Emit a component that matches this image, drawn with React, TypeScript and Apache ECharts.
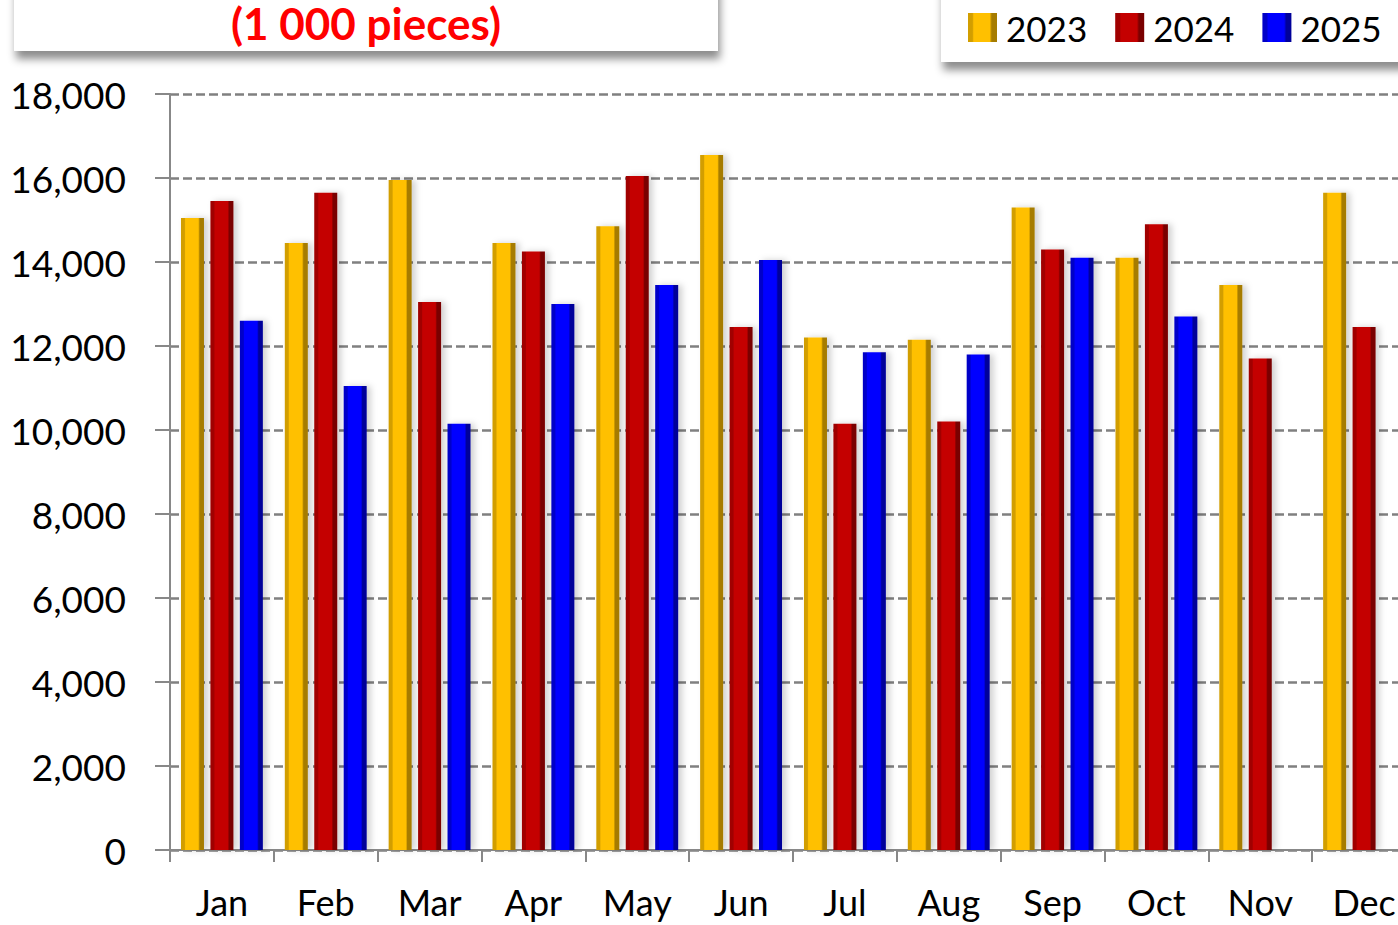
import React, { useEffect, useRef } from "react";
import * as echarts from "echarts";

const months = ["Jan", "Feb", "Mar", "Apr", "May", "Jun", "Jul", "Aug", "Sep", "Oct", "Nov", "Dec"];
const seriesNames = ["2023", "2024", "2025"];
const values2023 = [15050, 14450, 15950, 14450, 14850, 16550, 12200, 12150, 15300, 14100, 13450, 15650];
const values2024 = [15450, 15650, 13050, 14250, 16050, 12450, 10150, 10200, 14300, 14900, 11700, 12450];
const values2025: (number | null)[] = [12600, 11050, 10150, 13000, 13450, 14050, 11850, 11800, 14100, 12700, null, null];
const yTicks = { min: 0, max: 18000, interval: 2000 };
const titleText = "(1 000 pieces)";

const FONT = "Lato, 'Noto Sans', sans-serif";

function barGradient(edgeL: string, mid: string, edgeR: string) {
  return new echarts.graphic.LinearGradient(0, 0, 1, 0, [
    { offset: 0, color: edgeL },
    { offset: 0.15, color: edgeL },
    { offset: 0.2, color: mid },
    { offset: 0.75, color: mid },
    { offset: 0.82, color: edgeR },
    { offset: 1, color: edgeR },
  ]);
}

export default function App() {
  const ref = useRef<HTMLDivElement>(null);
  useEffect(() => {
    document.body.style.margin = "0";
    document.body.style.overflow = "hidden";
    const chart = echarts.init(ref.current!, undefined, { renderer: "svg" });
    const styles = [
      barGradient("#D29E00", "#FFC000", "#A67C00"),
      barGradient("#A00000", "#C40000", "#7A0000"),
      barGradient("#0000C8", "#0000FF", "#00009A"),
    ];
    const data = [values2023, values2024, values2025];
    chart.setOption({
      animation: false,
      backgroundColor: "#ffffff",
      textStyle: { fontFamily: FONT },
      grid: { left: 170, top: 94, right: 0, bottom: 75, containLabel: false },
      legend: {
        left: 968,
        top: 10,
        padding: 0,
        itemWidth: 29,
        itemHeight: 29,
        itemGap: 28,
        icon: "rect",
        textStyle: { fontFamily: FONT, fontSize: 35, color: "#000", lineHeight: 35, padding: [0, 0, 0, 4] },
        data: seriesNames,
      },
      graphic: [
        {
          type: "rect",
          shape: { x: 14, y: -60, width: 704, height: 111 },
          style: { fill: "#fff", shadowBlur: 8, shadowOffsetX: 2, shadowOffsetY: 8, shadowColor: "rgba(0,0,0,0.45)" },
          z: 10,
        },
        {
          type: "text",
          x: 366,
          y: 1,
          style: {
            text: titleText,
            fill: "#FF0000",
            font: "bold 44px " + FONT,
            lineHeight: 44,
            align: "center",
            verticalAlign: "top",
          },
          z: 11,
        },
        {
          type: "rect",
          shape: { x: 941, y: -60, width: 520, height: 122 },
          style: { fill: "#fff", shadowBlur: 8, shadowOffsetX: 2, shadowOffsetY: 8, shadowColor: "rgba(0,0,0,0.45)" },
          z: 0,
        },
      ],
      xAxis: {
        type: "category",
        data: months,
        axisLine: { lineStyle: { color: "#888", width: 2 } },
        axisTick: { show: true, length: 12, lineStyle: { color: "#888", width: 2 } },
        axisLabel: { fontFamily: FONT, fontSize: 36, color: "#000", margin: 34 },
      },
      yAxis: {
        type: "value",
        min: yTicks.min,
        max: yTicks.max,
        interval: yTicks.interval,
        axisLine: { show: true, lineStyle: { color: "#888", width: 2 } },
        axisTick: { show: true, length: 15, lineStyle: { color: "#888", width: 2 } },
        axisLabel: { fontFamily: FONT, fontSize: 37, color: "#000", margin: 44 },
        splitLine: { lineStyle: { color: "#808080", width: 2.5, type: [9, 4] } },
      },
      series: seriesNames.map((name, i) => ({
        name,
        type: "bar",
        data: data[i],
        barWidth: 23,
        barGap: "28%",
        itemStyle: {
          color: styles[i],
          shadowBlur: 6,
          shadowOffsetX: 4,
          shadowColor: "rgba(0,0,0,0.18)",
        },
      })),
    });
    return () => chart.dispose();
  }, []);
  return <div ref={ref} style={{ width: 1416, height: 925, position: "absolute", left: 0, top: 0 }} />;
}
